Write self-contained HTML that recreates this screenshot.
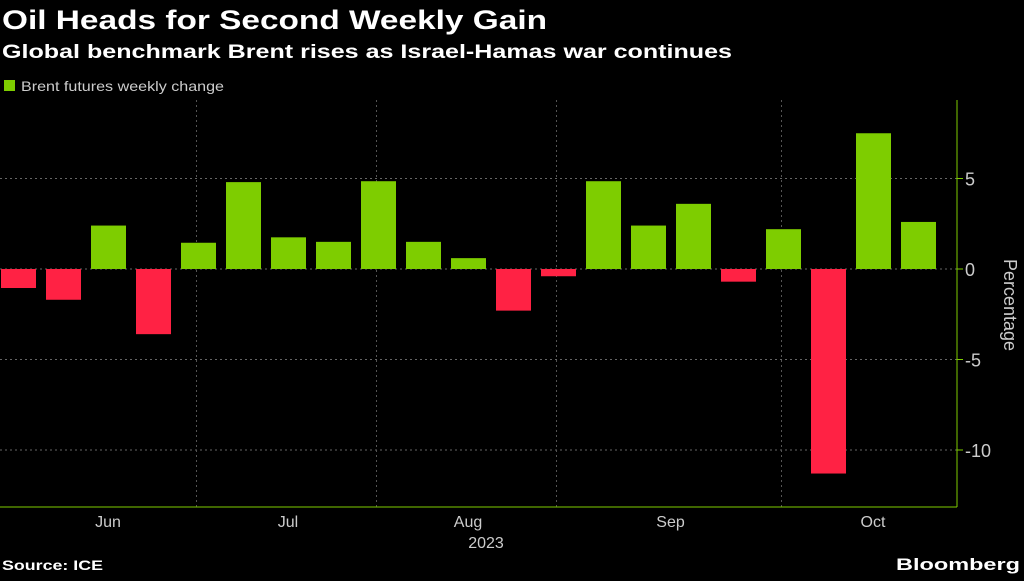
<!DOCTYPE html>
<html><head><meta charset="utf-8"><style>
body{margin:0;background:#000;width:1024px;height:576px;overflow:hidden;font-family:"Liberation Sans",sans-serif;color:#fff}
</style></head><body>
<svg width="1024" height="576">
<text x="2" y="29" font-size="27" font-weight="bold" fill="#fff" textLength="545" lengthAdjust="spacingAndGlyphs">Oil Heads for Second Weekly Gain</text>
<text x="2" y="58" font-size="19" font-weight="bold" fill="#fff" textLength="730" lengthAdjust="spacingAndGlyphs">Global benchmark Brent rises as Israel-Hamas war continues</text>
<rect x="4" y="80" width="11" height="11" fill="#7ecd00"/>
<text x="21" y="91" font-size="14" fill="#ccc" textLength="203" lengthAdjust="spacingAndGlyphs">Brent futures weekly change</text>
<g id="grid"></g><g id="bars"></g><g id="axis"></g>
<text x="486" y="548" font-size="16" fill="#ccc" text-anchor="middle">2023</text>
<text transform="translate(1004,305) rotate(90)" font-size="18" fill="#ccc" text-anchor="middle">Percentage</text>
<text x="2" y="570" font-size="14" font-weight="bold" fill="#fff" textLength="101" lengthAdjust="spacingAndGlyphs">Source: ICE</text>
<text x="896" y="570" font-size="17" font-weight="bold" fill="#fff" textLength="124" lengthAdjust="spacingAndGlyphs">Bloomberg</text>
</svg>
<script>
const values=[-1.05,-1.7,2.4,-3.6,1.45,4.8,1.75,1.5,4.85,1.5,0.6,-2.3,-0.4,4.85,2.4,3.6,-0.7,2.2,-11.3,7.5,2.6];
const yTicks=[5,0,-5,-10];
const yTickLabels=["5","0","-5","-10"];
const monthLabels=["Jun","Jul","Aug","Sep","Oct"];
const monthCenters=[2,6,10,14.5,19];
const monthSeparators=[3.9,7.9,11.9,16.9];
const NS="http://www.w3.org/2000/svg";
const y=v=>269-v*18.1;
const xl=i=>1+45*i;
function mk(t,a,p){const e=document.createElementNS(NS,t);for(const k in a)e.setAttribute(k,a[k]);document.getElementById(p).appendChild(e);return e;}
yTicks.forEach((t,i)=>{
 const l=mk('line',{x1:0,x2:957,y1:y(t),y2:y(t),stroke:'#666','stroke-dasharray':'2,3'},'grid');
 
 
 const tk=mk('line',{x1:957,x2:963,y1:y(t),y2:y(t),stroke:'#7ecd00'},'axis');
 
 
 const tx=mk('text',{x:965,y:y(t)+7,'font-size':18,fill:'#ccc'},'axis');tx.textContent=yTickLabels[i];
 
 
});
monthSeparators.forEach(m=>{
 const l=mk('line',{x1:xl(m)+20,x2:xl(m)+20,y1:100,y2:507,stroke:'#555','stroke-dasharray':'2,3'},'grid');
 
 
});
monthLabels.forEach((m,i)=>{
 const tx=mk('text',{x:xl(monthCenters[i])+17,y:527,'font-size':16,fill:'#ccc','text-anchor':'middle'},'axis');tx.textContent=m;
 
 
});
values.forEach((v,i)=>{
 const r=mk('rect',{x:xl(i),width:35,y:Math.min(y(v),y(0)),height:Math.abs(y(v)-y(0)),fill:v>=0?'#7ecd00':'#ff2244'},'bars');
 
 
});
const ax=mk('line',{x1:957,x2:957,y1:100,y2:507,stroke:'#7ecd00'},'axis');


const bx=mk('line',{x1:0,x2:957,y1:507,y2:507,stroke:'#7ecd00'},'axis');


</script>
</body></html>
